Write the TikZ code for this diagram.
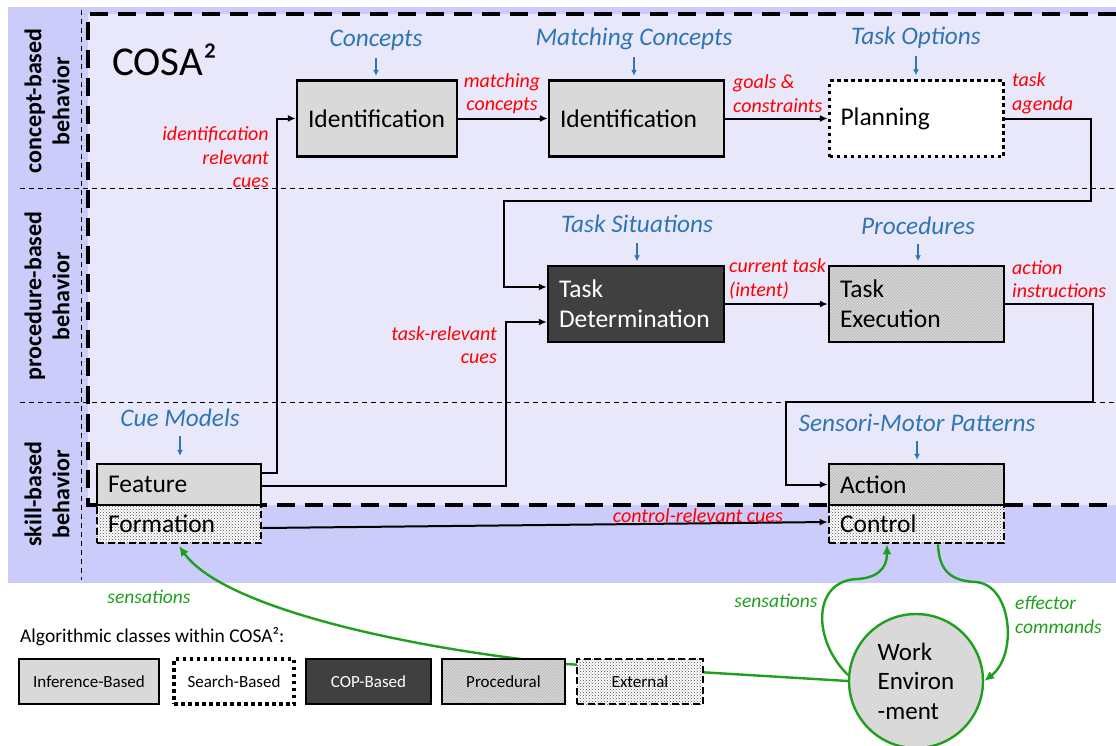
\documentclass[tikz,border=0pt]{standalone}
\usepackage{fontspec}
\setmainfont{Carlito}
\usetikzlibrary{arrows.meta,patterns}

\definecolor{bgdark}{RGB}{204,204,250}
\definecolor{bglight}{RGB}{232,232,250}
\definecolor{boxgray}{RGB}{217,217,217}
\definecolor{copgray}{RGB}{64,64,64}
\definecolor{lblue}{RGB}{46,117,182}
\definecolor{lred}{RGB}{255,0,0}
\definecolor{lgreen}{RGB}{30,160,30}

\tikzset{
  sep/.style={line width=1pt, dash pattern=on 5pt off 4pt},
  cosa/.style={line width=4pt, dash pattern=on 18pt off 10pt},
  rowlab/.style={font=\bfseries\fontsize{24}{28}\selectfont, align=center, inner sep=0pt},
  box/.style={draw, line width=2.4pt, inner xsep=11pt, inner ysep=0pt, align=left,
    font=\fontsize{25.5}{30}\selectfont},
  infer/.style={box, fill=boxgray},
  search/.style={box, fill=white, line width=3.5pt, dash pattern=on 3.5pt off 3.5pt},
  cop/.style={box, fill=copgray, text=white},
  proc/.style={box, preaction={fill=boxgray}, pattern=north east lines, pattern color=black!30},
  ext/.style={box, preaction={fill=white}, pattern=crosshatch dots, pattern color=black!70,
    line width=2.6pt, dash pattern=on 7pt off 3.5pt},
  leg/.style={minimum height=45, inner xsep=0pt, align=center, font=\fontsize{17}{20}\selectfont},
  blab/.style={text=lblue, font=\itshape\fontsize{25.3}{28}\selectfont, inner sep=0pt},
  rlab/.style={text=lred, font=\itshape\fontsize{20}{23.5}\selectfont, inner sep=0pt},
  glab/.style={text=lgreen, font=\itshape\fontsize{19.5}{23.5}\selectfont, inner sep=0pt},
  barrow/.style={lblue, line width=1.8pt, -{Latex[length=6pt,width=6pt]}, shorten >=3.5pt},
  conn/.style={line width=2pt, -{Latex[length=8pt,width=7pt]}},
  gconn/.style={lgreen, line width=2.4pt, -{Latex[length=10pt,width=9pt]}},
  envc/.style={circle, draw=lgreen, line width=2.4pt, fill=boxgray, minimum size=134,
    inner sep=0pt, align=left, font=\fontsize{25}{29.5}\selectfont},
}

\begin{document}
\begin{tikzpicture}[x=1pt,y=-1pt]
\useasboundingbox (0,0) rectangle (1116,745);
\fill[white] (0,0) rectangle (1116,745);

% behaviour bands
\fill[bgdark] (8,7) rectangle (1116,583);
\fill[bglight] (88,14) rectangle (1116,505);
\draw[sep] (20,188) -- (1116,188);
\draw[sep] (20,402) -- (1116,402);
\draw[sep] (81,10) -- (81,580);
\draw[cosa] (1116,14) -- (88,14) -- (88,505) -- (1116,505);

\node[rowlab, rotate=90] (rowC) at (47,101) {concept-based\\behavior};
\node[rowlab, rotate=90] (rowP) at (47,296) {procedure-based\\behavior};
\node[rowlab, rotate=90] (rowS) at (47,494) {skill-based\\behavior};

\node[anchor=west, font=\fontsize{41}{46}\selectfont, inner sep=0pt] (title) at (112,60) {COSA²};

% environment (drawn first so the legend covers its link)
\node[envc] (env) at (916,681) {Work\\Environ\\-ment};
\draw[gconn] (env.west) -- (566,664) .. controls (420,650) and (225,610) .. (179,546);

% concept level
\node[infer, minimum width=160, text width=138, minimum height=76] (id1) at (377,118.5) {Identification};
\node[infer, minimum width=175, text width=153, minimum height=76] (id2) at (636.5,118.5) {Identification};
\node[search, minimum width=174, text width=152, minimum height=76] (plan) at (916.5,118.5) {Planning};

% procedure level
\node[cop, minimum width=176, text width=154, minimum height=76] (det) at (636,304) {Task\\Determination};
\node[proc, minimum width=175, text width=153, minimum height=76] (exe) at (916.5,304) {Task\\Execution};

% skill level
\node[ext, minimum width=164, text width=142, minimum height=38] (form) at (179,524) {Formation};
\node[infer, minimum width=164, text width=142, minimum height=41] (feat) at (179,484.5) {Feature};
\node[ext, minimum width=175, text width=153, minimum height=38] (ctrl) at (916.5,524) {Control};
\node[proc, minimum width=175, text width=153, minimum height=41] (act) at (916.5,484.5) {Action};

% knowledge sources
\node[blab] (cpt) at (376,40) {Concepts};
\node[blab] (mcp) at (634,39) {Matching Concepts};
\node[blab] (topt) at (916,38) {Task Options};
\node[blab] (tsit) at (637,224) {Task Situations};
\node[blab] (procs) at (918,226) {Procedures};
\node[blab] (cue) at (180,418) {Cue Models};
\node[blab] (smp) at (917,423) {Sensori-Motor Patterns};

\draw[barrow] ([yshift=-18pt]cpt.center) -- (cpt.center |- id1.north);
\draw[barrow] ([yshift=-18pt]mcp.center) -- (mcp.center |- id2.north);
\draw[barrow] ([yshift=-18pt]topt.center) -- (topt.center |- plan.north);
\draw[barrow] ([yshift=-19pt]tsit.center) -- (tsit.center |- det.north);
\draw[barrow] ([yshift=-18pt]procs.center) -- (procs.center |- exe.north);
\draw[barrow, shorten >=7pt] ([yshift=-18pt]cue.center) -- (cue.center |- feat.north);
\draw[barrow, shorten >=3pt] ([yshift=-18pt]smp.center) -- (smp.center |- act.north);

% information flow
\draw[conn] ([yshift=11.5pt]feat.east) -| ([xshift=-19pt]id1.west) -- (id1.west);
\draw[conn] ([yshift=-1.5pt]feat.east) -| ([xshift=-41pt,yshift=-18pt]det.west) -- ([yshift=-18pt]det.west);
\draw[conn] (id1.east) -- (id2.west);
\draw[conn] (id2.east) -- (plan.west);
\draw[conn] (plan.east) -| (1091,201) -| ([xshift=-43pt,yshift=17pt]det.west) -- ([yshift=17pt]det.west);
\draw[conn] (det.east) -- (exe.west);
\draw[conn] (exe.east) -| (1093,402) -| ([xshift=-42pt]act.west) -- (act.west);
\draw[conn] ([yshift=-4pt]form.east) -- ([yshift=2pt]ctrl.west);

% flow labels
\node[rlab, align=center] (lmc) at (502,93.5) {matching\\concepts};
\node[rlab, align=left, anchor=west] (lgc) at (733,93.5) {goals \&\\constraints};
\node[rlab, align=left, anchor=west] (lta) at (1012,93.5) {task\\agenda};
\node[rlab, align=right, anchor=east] (lirc) at (269,157.5) {identification\\relevant\\cues};
\node[rlab, align=left, anchor=west] (lct) at (729,279) {current task\\(intent)};
\node[rlab, align=left, anchor=west] (lai) at (1012,279) {action\\instructions};
\node[rlab, align=right, anchor=east] (ltrc) at (497,345) {task-relevant\\cues};
\node[rlab, anchor=east] (lcrc) at (783,516) {control-relevant cues};

% loop with the environment
\draw[gconn] (env.175) .. controls (812,640) and (812,580) .. (858,579)
  .. controls (884,577) and (887,562) .. ([xshift=-29.5pt]ctrl.south);
\draw[gconn] ([xshift=21.5pt]ctrl.south) .. controls (939,572) and (952,581) .. (976,582)
  .. controls (1012,585) and (1018,655) .. (env.east);

\node[glab] (ls1) at (149,597) {sensations};
\node[glab] (ls2) at (776,601) {sensations};
\node[glab, align=left, anchor=west] (lec) at (1015,615) {effector\\commands};

% legend
\node[anchor=west, font=\fontsize{19.5}{24}\selectfont, inner sep=0pt] (legtitle) at (20,637) {Algorithmic classes within COSA²:};
\node[infer, leg, minimum width=140] (lg1) at (89,681.5) {Inference-Based};
\node[search, leg, minimum width=120] (lg2) at (234,681.5) {Search-Based};
\node[cop, leg, minimum width=125] (lg3) at (368.5,681.5) {COP-Based};
\node[proc, leg, minimum width=123] (lg4) at (503.5,681.5) {Procedural};
\node[ext, leg, minimum width=126] (lg5) at (640,681.5) {External};
\end{tikzpicture}
\end{document}
